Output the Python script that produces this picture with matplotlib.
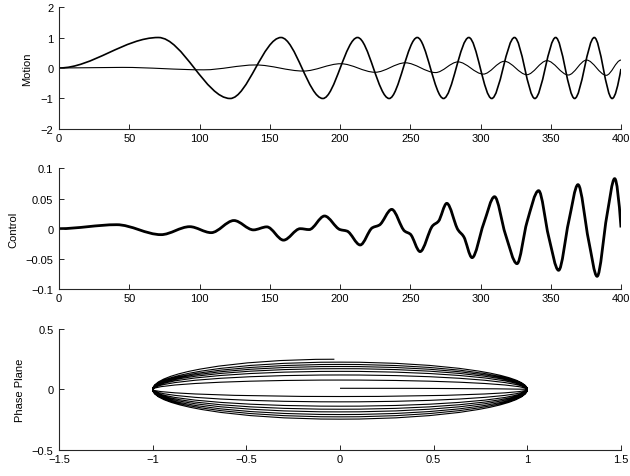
"""
Motion / Control / Phase Plane - three stacked panels
"""

import numpy as np
import matplotlib
matplotlib.use('Agg')
import matplotlib.pyplot as plt
from matplotlib.path import Path
from matplotlib.patches import PathPatch
from matplotlib.ticker import FuncFormatter

plt.rcParams['font.family'] = ['Liberation Sans', 'DejaVu Sans']
plt.rcParams['font.size'] = 8

# ---------- data ----------
# motion (thick): extrema of the chirp, then the end value
motion_t = [0, 70.7, 121.8, 158, 187.8, 212.5, 235, 255, 273.7, 291.7,
            308, 324.2, 338.7, 353.5, 367, 381, 393.7, 400]
motion_y = [0, 1, -1, 1, -1, 1, -1, 1, -1, 1,
            -1, 1, -1, 1, -1, 1, -1, -0.03]

# second motion trace (thin)
ref_t = [0, 45, 103, 140, 174, 200.5, 225, 246.5, 268, 284,
         302, 317, 333, 347.3, 362.5, 375.5, 389.5, 400]
ref_y = [0, 0.02, -0.06, 0.1, -0.1, 0.14, -0.14, 0.17, -0.15, 0.2,
         -0.2, 0.22, -0.22, 0.24, -0.23, 0.26, -0.24, 0.26]

# control signal
ctrl_t = [0, 41, 72.6, 93, 108.3, 124.5, 138.4, 147.9, 159.8, 171.7,
          178, 189, 200, 205, 214.4, 223, 228, 236.8, 246, 250,
          257, 266, 270, 276, 284, 288, 294, 302.2, 310, 317.7,
          326, 333.1, 341.4, 348.5, 355.6, 362.8, 369.4, 377, 383, 390,
          395.5, 400]
ctrl_y = [0, 0.0066, -0.0099, 0.0033, -0.0066, 0.0135, -0.002, 0.003, -0.019, 0.0,
          -0.0015, 0.021, -0.0015, -0.004, -0.027, 0.0015, 0.006, 0.032, -0.004, -0.009,
          -0.038, 0.005, 0.012, 0.042, -0.002, -0.013, -0.048, 0.008, 0.053, -0.009,
          -0.058, 0.011, 0.063, -0.013, -0.069, 0.012, 0.073, -0.02, -0.079, 0.022,
          0.083, 0.002]

# phase plane: velocity where motion crosses zero (start, between extrema, end)
phase_vel = [0.01, -0.058, 0.078, -0.102, 0.12, -0.138, 0.15, -0.163, 0.172,
             -0.185, 0.19, -0.207, 0.207, -0.226, 0.226, -0.245, 0.25]


def smooth_path(x, y, end_slope=None):
    """monotone cubic through the points, drawn as bezier segments"""
    x = np.asarray(x, float)
    y = np.asarray(y, float)
    h = np.diff(x)
    d = np.diff(y) / h
    m = np.zeros_like(y)
    for i in range(1, len(y) - 1):
        if d[i - 1] * d[i] > 0:
            w1 = 2 * h[i] + h[i - 1]
            w2 = h[i] + 2 * h[i - 1]
            m[i] = (w1 + w2) / (w1 / d[i - 1] + w2 / d[i])
    if end_slope is None:
        h0, h1, d0, d1 = h[-1], h[-2], d[-1], d[-2]
        s = ((2 * h0 + h1) * d0 - h0 * d1) / (h0 + h1)
        if np.sign(s) != np.sign(d0):
            s = 0.0
        elif np.sign(d0) != np.sign(d1) and abs(s) > 3 * abs(d0):
            s = 3 * d0
        m[-1] = s
    else:
        m[-1] = end_slope

    verts = [(x[0], y[0])]
    codes = [Path.MOVETO]
    for i in range(len(x) - 1):
        dx = h[i] / 3
        verts += [(x[i] + dx, y[i] + m[i] * dx),
                  (x[i + 1] - dx, y[i + 1] - m[i + 1] * dx),
                  (x[i + 1], y[i + 1])]
        codes += [Path.CURVE4] * 3
    return Path(verts, codes)


def phase_path(ext, vel, x_start, x_end):
    """quarter-ellipse arcs: zero crossing -> extremum -> zero crossing ..."""
    k = 0.5523
    nodes = [(x_start, vel[0])]
    for i, e in enumerate(ext):
        nodes.append((e, 0.0))
        nodes.append((x_end if i == len(ext) - 1 else 0.0, vel[i + 1]))
    verts = [nodes[0]]
    codes = [Path.MOVETO]
    for a, b in zip(nodes[:-1], nodes[1:]):
        if a[1] != 0.0:   # zero crossing -> extremum
            c1 = (a[0] + k * (b[0] - a[0]), a[1])
            c2 = (b[0], k * a[1])
        else:             # extremum -> zero crossing
            c1 = (a[0], k * b[1])
            c2 = (b[0] + k * (a[0] - b[0]), b[1])
        verts += [c1, c2, b]
        codes += [Path.CURVE4] * 3
    return Path(verts, codes)


def fmt(v, pos):
    return ('%g' % round(v, 6)).replace('-', '\u2212')


def style_axes(ax):
    for side in ['top', 'right']:
        ax.spines[side].set_visible(False)
    for side in ['left', 'bottom']:
        ax.spines[side].set_linewidth(0.8)
        ax.spines[side].set_color('0.15')
    ax.tick_params(direction='in', length=3.5, width=0.7, color='0.15')
    ax.tick_params(axis='x', pad=3)
    ax.tick_params(axis='y', pad=4)
    ax.xaxis.set_major_formatter(FuncFormatter(fmt))
    ax.yaxis.set_major_formatter(FuncFormatter(fmt))


fig = plt.figure(figsize=(6.3, 4.77), dpi=100)
left, width = 0.0937, 0.892

# ========== Motion ==========
ax1 = fig.add_axes([left, 0.7275, width, 0.2557])
ax1.add_patch(PathPatch(smooth_path(motion_t, motion_y), fill=False,
                        edgecolor='black', linewidth=1.2))
ax1.add_patch(PathPatch(smooth_path(ref_t, ref_y, end_slope=0.0), fill=False,
                        edgecolor='black', linewidth=0.8))
ax1.set_xlim(0, 400)
ax1.set_ylim(-2, 2)
ax1.set_xticks(np.arange(0, 401, 50))
ax1.set_yticks([-2, -1, 0, 1, 2])
ax1.set_ylabel('Motion', labelpad=6)
style_axes(ax1)

# ========== Control ==========
ax2 = fig.add_axes([left, 0.392, width, 0.253])
ax2.add_patch(PathPatch(smooth_path(ctrl_t, ctrl_y), fill=False,
                        edgecolor='black', linewidth=2.0, joinstyle='round'))
ax2.set_xlim(0, 400)
ax2.set_ylim(-0.1, 0.1)
ax2.set_xticks(np.arange(0, 401, 50))
ax2.set_yticks([-0.1, -0.05, 0, 0.05, 0.1])
ax2.set_ylabel('Control', labelpad=5)
style_axes(ax2)

# ========== Phase Plane ==========
ax3 = fig.add_axes([left, 0.0545, width, 0.2537])
ax3.add_patch(PathPatch(phase_path(motion_y[1:-1], phase_vel, motion_y[0], motion_y[-1]),
                        fill=False, edgecolor='black', linewidth=0.8))
ax3.set_xlim(-1.5, 1.5)
ax3.set_ylim(-0.5, 0.5)
ax3.set_xticks([-1.5, -1, -0.5, 0, 0.5, 1, 1.5])
ax3.set_yticks([-0.5, 0, 0.5])
ax3.set_ylabel('Phase Plane', labelpad=5)
style_axes(ax3)

fig.savefig('out.png', dpi=100)
